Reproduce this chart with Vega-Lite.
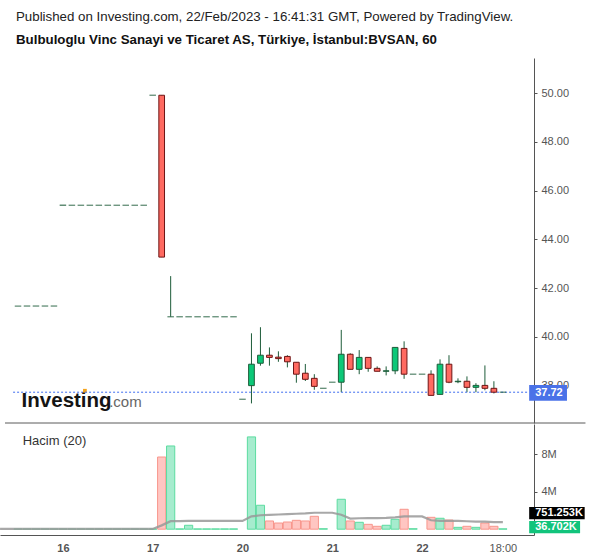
{
  "$schema": "https://vega.github.io/schema/vega-lite/v6.json",
  "background": "white",
  "padding": {"left": 0, "top": 10, "right": 0, "bottom": 0},
  "config": {
    "view": {"stroke": null},
    "font": "Liberation Sans",
    "axis": {"grid": false, "title": null, "labelFont": "Liberation Sans", "labelFontSize": 11, "labelColor": "#555555", "domainColor": "#555555", "tickColor": "#555555"}
  },
  "title": {
    "text": "Published on Investing.com, 22/Feb/2023 - 16:41:31 GMT, Powered by TradingView.",
    "subtitle": "Bulbuloglu Vinc Sanayi ve Ticaret AS, Türkiye, İstanbul:BVSAN, 60",
    "anchor": "start",
    "frame": "group",
    "dx": 16,
    "font": "Liberation Sans",
    "fontSize": 13.3,
    "fontWeight": "normal",
    "color": "#222222",
    "subtitleFont": "Liberation Sans",
    "subtitleFontSize": 13.3,
    "subtitleFontWeight": "bold",
    "subtitleColor": "#111111",
    "subtitlePadding": 9,
    "offset": 12
  },
  "datasets": {
    "bars": [
      {"i": -5, "o": 41.26, "h": 41.26, "l": 41.26, "c": 41.26, "v": 0.03},
      {"i": -4, "o": 41.26, "h": 41.26, "l": 41.26, "c": 41.26, "v": 0.03},
      {"i": -3, "o": 41.26, "h": 41.26, "l": 41.26, "c": 41.26, "v": 0.03},
      {"i": -2, "o": 41.26, "h": 41.26, "l": 41.26, "c": 41.26, "v": 0.03},
      {"i": -1, "o": 41.26, "h": 41.26, "l": 41.26, "c": 41.26, "v": 0.03},
      {"i": 0, "o": 45.4, "h": 45.4, "l": 45.4, "c": 45.4, "v": 0.03},
      {"i": 1, "o": 45.4, "h": 45.4, "l": 45.4, "c": 45.4, "v": 0.03},
      {"i": 2, "o": 45.4, "h": 45.4, "l": 45.4, "c": 45.4, "v": 0.03},
      {"i": 3, "o": 45.4, "h": 45.4, "l": 45.4, "c": 45.4, "v": 0.03},
      {"i": 4, "o": 45.4, "h": 45.4, "l": 45.4, "c": 45.4, "v": 0.03},
      {"i": 5, "o": 45.4, "h": 45.4, "l": 45.4, "c": 45.4, "v": 0.03},
      {"i": 6, "o": 45.4, "h": 45.4, "l": 45.4, "c": 45.4, "v": 0.03},
      {"i": 7, "o": 45.4, "h": 45.4, "l": 45.4, "c": 45.4, "v": 0.03},
      {"i": 8, "o": 45.4, "h": 45.4, "l": 45.4, "c": 45.4, "v": 0.03},
      {"i": 9, "o": 45.4, "h": 45.4, "l": 45.4, "c": 45.4, "v": 0.03},
      {"i": 10, "o": 49.92, "h": 49.92, "l": 49.92, "c": 49.92, "v": 0.02},
      {"i": 11, "o": 49.92, "h": 49.92, "l": 43.27, "c": 43.27, "v": 7.72},
      {"i": 12, "o": 40.82, "h": 42.49, "l": 40.82, "c": 40.82, "v": 8.9},
      {"i": 13, "o": 40.82, "h": 40.82, "l": 40.82, "c": 40.82, "v": 0.03},
      {"i": 14, "o": 40.82, "h": 40.82, "l": 40.82, "c": 40.82, "v": 0.42},
      {"i": 15, "o": 40.82, "h": 40.82, "l": 40.82, "c": 40.82, "v": 0.03},
      {"i": 16, "o": 40.82, "h": 40.82, "l": 40.82, "c": 40.82, "v": 0.03},
      {"i": 17, "o": 40.82, "h": 40.82, "l": 40.82, "c": 40.82, "v": 0.03},
      {"i": 18, "o": 40.82, "h": 40.82, "l": 40.82, "c": 40.82, "v": 0.03},
      {"i": 19, "o": 40.82, "h": 40.82, "l": 40.82, "c": 40.82, "v": 0.03},
      {"i": 20, "o": 37.43, "h": 37.43, "l": 37.43, "c": 37.43, "v": 0},
      {"i": 21, "o": 37.99, "h": 40.14, "l": 37.26, "c": 38.87, "v": 9.87},
      {"i": 22, "o": 38.91, "h": 40.39, "l": 38.81, "c": 39.24, "v": 2.56},
      {"i": 23, "o": 39.24, "h": 39.56, "l": 38.81, "c": 39.15, "v": 0.88},
      {"i": 24, "o": 39.16, "h": 39.4, "l": 38.97, "c": 39.1, "v": 0.66},
      {"i": 25, "o": 39.19, "h": 39.24, "l": 38.74, "c": 38.97, "v": 0.77},
      {"i": 26, "o": 38.95, "h": 38.95, "l": 38.11, "c": 38.46, "v": 0.95},
      {"i": 27, "o": 38.5, "h": 38.88, "l": 38.18, "c": 38.25, "v": 0.88},
      {"i": 28, "o": 38.29, "h": 38.46, "l": 37.82, "c": 37.96, "v": 1.38},
      {"i": 29, "o": 37.88, "h": 37.88, "l": 37.88, "c": 37.88, "v": 0.05},
      {"i": 30, "o": 38.13, "h": 38.13, "l": 38.13, "c": 38.13, "v": 0},
      {"i": 31, "o": 38.13, "h": 40.28, "l": 37.72, "c": 39.28, "v": 3.2},
      {"i": 32, "o": 39.28, "h": 39.32, "l": 38.66, "c": 38.66, "v": 0.88},
      {"i": 33, "o": 38.66, "h": 39.45, "l": 38.46, "c": 39.15, "v": 0.74},
      {"i": 34, "o": 39.15, "h": 39.15, "l": 38.56, "c": 38.7, "v": 0.52},
      {"i": 35, "o": 38.7, "h": 38.78, "l": 38.58, "c": 38.58, "v": 0.31},
      {"i": 36, "o": 38.58, "h": 38.78, "l": 38.41, "c": 38.6, "v": 0.42},
      {"i": 37, "o": 38.6, "h": 39.56, "l": 38.46, "c": 39.56, "v": 1.06},
      {"i": 38, "o": 39.52, "h": 39.81, "l": 38.27, "c": 38.46, "v": 2.13},
      {"i": 39, "o": 38.46, "h": 38.46, "l": 38.46, "c": 38.46, "v": 0.05},
      {"i": 40, "o": 38.46, "h": 38.46, "l": 38.46, "c": 38.46, "v": 0},
      {"i": 41, "o": 38.46, "h": 38.62, "l": 37.59, "c": 37.59, "v": 1.27},
      {"i": 42, "o": 37.63, "h": 39.07, "l": 37.63, "c": 38.87, "v": 1.17},
      {"i": 43, "o": 38.87, "h": 39.24, "l": 38.09, "c": 38.13, "v": 0.98},
      {"i": 44, "o": 38.15, "h": 38.29, "l": 38.09, "c": 38.17, "v": 0.2},
      {"i": 45, "o": 38.17, "h": 38.37, "l": 37.72, "c": 37.92, "v": 0.31},
      {"i": 46, "o": 37.92, "h": 38.09, "l": 37.72, "c": 38.0, "v": 0.2},
      {"i": 47, "o": 38.0, "h": 38.82, "l": 37.8, "c": 37.88, "v": 0.66},
      {"i": 48, "o": 37.88, "h": 38.17, "l": 37.67, "c": 37.72, "v": 0.31},
      {"i": 49, "o": 37.72, "h": 37.72, "l": 37.72, "c": 37.72, "v": 0.037}
    ],
    "ma": [
      {"i": -7, "ma": 0.03}, {"i": -6, "ma": 0.03}, {"i": -5, "ma": 0.03}, {"i": -4, "ma": 0.03},
      {"i": -3, "ma": 0.03}, {"i": -2, "ma": 0.03}, {"i": -1, "ma": 0.03}, {"i": 0, "ma": 0.03},
      {"i": 1, "ma": 0.03}, {"i": 2, "ma": 0.03}, {"i": 3, "ma": 0.03}, {"i": 4, "ma": 0.03},
      {"i": 5, "ma": 0.03}, {"i": 6, "ma": 0.03}, {"i": 7, "ma": 0.03}, {"i": 8, "ma": 0.03},
      {"i": 9, "ma": 0.03}, {"i": 10, "ma": 0.03}, {"i": 11, "ma": 0.41}, {"i": 12, "ma": 0.86},
      {"i": 13, "ma": 0.86}, {"i": 14, "ma": 0.88}, {"i": 15, "ma": 0.88}, {"i": 16, "ma": 0.88},
      {"i": 17, "ma": 0.88}, {"i": 18, "ma": 0.88}, {"i": 19, "ma": 0.88}, {"i": 20, "ma": 0.88},
      {"i": 21, "ma": 1.37}, {"i": 22, "ma": 1.49}, {"i": 23, "ma": 1.54}, {"i": 24, "ma": 1.57},
      {"i": 25, "ma": 1.61}, {"i": 26, "ma": 1.65}, {"i": 27, "ma": 1.69}, {"i": 28, "ma": 1.76},
      {"i": 29, "ma": 1.76}, {"i": 30, "ma": 1.76}, {"i": 31, "ma": 1.54}, {"i": 32, "ma": 1.14},
      {"i": 33, "ma": 1.17}, {"i": 34, "ma": 1.18}, {"i": 35, "ma": 1.19}, {"i": 36, "ma": 1.21},
      {"i": 37, "ma": 1.26}, {"i": 38, "ma": 1.37}, {"i": 39, "ma": 1.37}, {"i": 40, "ma": 1.37},
      {"i": 41, "ma": 0.96}, {"i": 42, "ma": 0.89}, {"i": 43, "ma": 0.9}, {"i": 44, "ma": 0.88},
      {"i": 45, "ma": 0.85}, {"i": 46, "ma": 0.81}, {"i": 47, "ma": 0.8}, {"i": 48, "ma": 0.75},
      {"i": 49, "ma": 0.751}
    ]
  },
  "spacing": 0,
  "vconcat": [
    {
      "width": 534,
      "height": 365,
      "layer": [
        {
          "data": {"name": "bars"},
          "mark": {"type": "rule", "color": "#1e5c3a", "strokeWidth": 1},
          "encoding": {
            "x": {"field": "i", "type": "quantitative", "scale": {"domain": [-6.45, 51.91], "nice": false, "zero": false}, "axis": null},
            "y": {"field": "l", "type": "quantitative", "scale": {"domain": [36.455, 51.45], "nice": false, "zero": false},
              "axis": {"orient": "right", "values": [38, 40, 42, 44, 46, 48, 50], "format": ".2f", "tickSize": 3, "labelPadding": 4}},
            "y2": {"field": "h"}
          }
        },
        {
          "data": {"values": [{"t": "Investing"}]},
          "mark": {"type": "text", "align": "left", "baseline": "alphabetic", "fontSize": 20.5, "fontWeight": "bold", "color": "#141414", "font": "Liberation Sans"},
          "encoding": {"x": {"datum": -4.6}, "y": {"datum": 37.124}, "text": {"field": "t"}}
        },
        {
          "data": {"values": [{"t": "o"}]},
          "mark": {"type": "point", "shape": "square", "filled": true, "size": 14, "color": "#f5a31a", "opacity": 1},
          "encoding": {"x": {"datum": 2.45}, "y": {"datum": 37.78}}
        },
        {
          "data": {"values": [{"t": ".com"}]},
          "mark": {"type": "text", "align": "left", "baseline": "alphabetic", "fontSize": 15, "color": "#666666", "font": "Liberation Sans"},
          "encoding": {"x": {"datum": 5.15}, "y": {"datum": 37.124}, "text": {"field": "t"}}
        },
        {
          "data": {"values": [{"p": 37.72}]},
          "mark": {"type": "rule", "color": "#3d6cf0", "strokeWidth": 1, "strokeDash": [2, 2]},
          "encoding": {"x": {"datum": -5.55}, "x2": {"datum": 51.91}, "y": {"field": "p", "type": "quantitative"}}
        },
        {
          "data": {"name": "bars"},
          "transform": [{"filter": "datum.o != datum.c"}],
          "mark": {"type": "bar", "width": 5.7, "strokeWidth": 1},
          "encoding": {
            "x": {"field": "i", "type": "quantitative"},
            "y": {"field": "o", "type": "quantitative"},
            "y2": {"field": "c"},
            "fill": {"condition": {"test": "datum.c >= datum.o", "value": "#0cc878"}, "value": "#ff6a61"},
            "stroke": {"condition": {"test": "datum.c >= datum.o", "value": "#1e5c3a"}, "value": "#6e1515"}
          }
        },
        {
          "data": {"name": "bars"},
          "transform": [{"filter": "datum.o == datum.c"}],
          "mark": {"type": "tick", "orient": "horizontal", "size": 6.5, "thickness": 1.3, "color": "#1e5c3a"},
          "encoding": {"x": {"field": "i", "type": "quantitative"}, "y": {"field": "c", "type": "quantitative"}}
        },
        {
          "data": {"values": [{"t": "37.72"}]},
          "mark": {"type": "rect", "color": "#4a72e8"},
          "encoding": {"x": {"datum": 51.93}, "x2": {"datum": 56.14}, "y": {"datum": 38.02}, "y2": {"datum": 37.37}}
        },
        {
          "data": {"values": [{"t": "37.72"}]},
          "mark": {"type": "text", "align": "left", "baseline": "middle", "dx": 6, "fontSize": 11, "fontWeight": "bold", "color": "white"},
          "encoding": {"x": {"datum": 51.93}, "y": {"datum": 37.69}, "text": {"field": "t"}}
        },
        {
          "data": {"values": [{"t": "sep"}]},
          "mark": {"type": "rule", "color": "#5a5a5a", "strokeWidth": 1},
          "encoding": {"x": {"datum": -6.45}, "x2": {"datum": 58.2}, "y": {"datum": 36.455}}
        }
      ]
    },
    {
      "width": 534,
      "height": 111,
      "layer": [
        {
          "data": {"name": "bars"},
          "transform": [{"filter": "datum.v > 0"}],
          "mark": {"type": "bar", "width": 8.2, "strokeWidth": 1},
          "encoding": {
            "x": {"field": "i", "type": "quantitative", "scale": {"domain": [-6.45, 51.91], "nice": false, "zero": false},
              "axis": {"values": [0, 10, 20, 30, 40, 49], "ticks": false, "labelPadding": 7, "labelFontSize": 11,
                "labelExpr": "datum.value == 0 ? '16' : datum.value == 10 ? '17' : datum.value == 20 ? '20' : datum.value == 30 ? '21' : datum.value == 40 ? '22' : '18:00'",
                "labelFontWeight": {"condition": {"test": "datum.value == 49", "value": "normal"}, "value": "bold"}}},
            "y": {"field": "v", "type": "quantitative", "scale": {"domain": [-0.62, 11.25], "nice": false, "zero": false},
              "axis": {"orient": "right", "values": [4, 8], "labelExpr": "datum.value + 'M'", "tickSize": 3, "labelPadding": 4}},
            "fill": {"condition": {"test": "datum.c >= datum.o", "value": "#a6ecce"}, "value": "#ffc6c2"},
            "stroke": {"condition": {"test": "datum.c >= datum.o", "value": "#5cdca0"}, "value": "#f8968c"}
          }
        },
        {
          "data": {"values": [{"t": "Hacim (20)"}]},
          "mark": {"type": "text", "align": "left", "baseline": "alphabetic", "fontSize": 13, "color": "#333333"},
          "encoding": {"x": {"datum": -4.48}, "y": {"datum": 9.0}, "text": {"field": "t"}}
        },
        {
          "data": {"name": "ma"},
          "mark": {"type": "line", "color": "#999999", "strokeWidth": 2.2, "opacity": 0.85, "clip": true},
          "encoding": {"x": {"field": "i", "type": "quantitative"}, "y": {"field": "ma", "type": "quantitative"}}
        },
        {
          "data": {"values": [{"t": "751.253K"}]},
          "mark": {"type": "rect", "color": "#000000"},
          "encoding": {"x": {"datum": 51.93}, "x2": {"datum": 58.11}, "y": {"datum": 2.374}, "y2": {"datum": 1.059}}
        },
        {
          "data": {"values": [{"t": "751.253K"}]},
          "mark": {"type": "text", "align": "left", "baseline": "middle", "dx": 6, "fontSize": 11, "fontWeight": "bold", "color": "white"},
          "encoding": {"x": {"datum": 51.93}, "y": {"datum": 1.72}, "text": {"field": "t"}}
        },
        {
          "data": {"values": [{"t": "36.702K"}]},
          "mark": {"type": "rect", "color": "#12c47c"},
          "encoding": {"x": {"datum": 51.93}, "x2": {"datum": 57.6}, "y": {"datum": 0.877}, "y2": {"datum": -0.44}}
        },
        {
          "data": {"values": [{"t": "36.702K"}]},
          "mark": {"type": "text", "align": "left", "baseline": "middle", "dx": 6, "fontSize": 11, "fontWeight": "bold", "color": "white"},
          "encoding": {"x": {"datum": 51.93}, "y": {"datum": 0.22}, "text": {"field": "t"}}
        }
      ]
    }
  ]
}
